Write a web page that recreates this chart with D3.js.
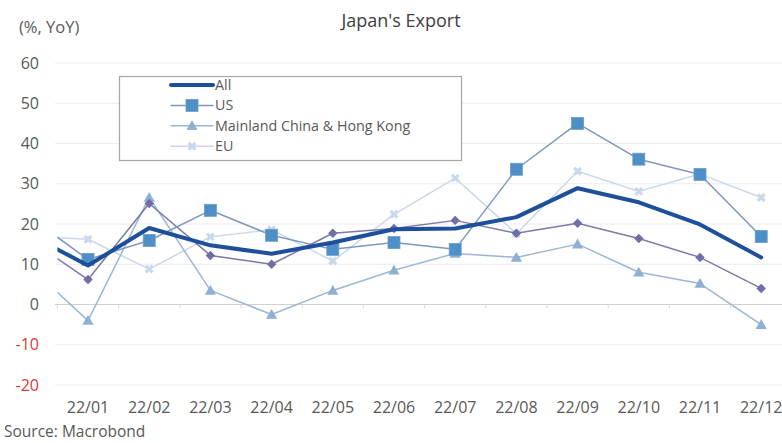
<!DOCTYPE html>
<html>
<head>
<meta charset="utf-8">
<script src="https://cdn.jsdelivr.net/npm/d3@7"></script>
<style>
  body { margin: 0; background: #fff; }
  svg { display: block; font-family: "Open Sans", "Noto Sans", sans-serif; }
</style>
</head>
<body>
<svg id="chart" width="782" height="443"></svg>
<script>
// months shown on the x axis
const months = ["22/01","22/02","22/03","22/04","22/05","22/06","22/07","22/08","22/09","22/10","22/11","22/12"];
const yTicks = [60, 50, 40, 30, 20, 10, 0, -10, -20];

// Dec 2021 values, only used so the lines enter from the left edge (clipped)
const dec21 = { all: 17.7, us: 22.2, asean: 16.6, china: 10.0, eu: 17.0 };

// % YoY
const allExp = [9.7, 19.0, 14.7, 12.6, 15.4, 18.7, 18.9, 21.7, 28.9, 25.4, 19.9, 11.7];
const usExp = [11.2, 15.9, 23.4, 17.2, 13.7, 15.4, 13.7, 33.6, 45.0, 36.1, 32.3, 16.9];
const chinaExp = [-4.0, 26.6, 3.5, -2.5, 3.5, 8.5, 12.7, 11.7, 15.0, 8.0, 5.2, -5.0];
const euExp = [16.2, 8.8, 16.8, 18.6, 10.8, 22.4, 31.4, 17.6, 33.1, 28.1, 32.4, 26.6];
const aseanExp = [6.2, 25.1, 12.2, 10.0, 17.7, 18.9, 20.9, 17.7, 20.2, 16.4, 11.7, 4.0];

const svg = d3.select("#chart");
const W = 782, H = 443;
const plotL = 57.4, plotR = 791.8, plotT = 63, plotB = 385;

const x = d3.scaleBand().domain(months).range([plotL, plotR]);
const y = d3.scaleLinear().domain([-20, 60]).range([plotB, plotT]);
const step = x.step();
const cx = m => x(m) + x.bandwidth() / 2;

svg.append("defs").append("clipPath").attr("id", "plotclip")
  .append("rect").attr("x", plotL).attr("y", 0).attr("width", W - plotL).attr("height", H);

// title and unit
svg.append("text").attr("x", 401).attr("y", 27).attr("text-anchor", "middle")
  .attr("font-size", 18).attr("fill", "#404040").text("Japan's Export");
svg.append("text").attr("x", 19).attr("y", 33)
  .attr("font-size", 16.5).attr("fill", "#595959").text("(%, YoY)");

// gridlines
svg.append("g").selectAll("line").data(yTicks).enter().append("line")
  .attr("x1", 55).attr("x2", W)
  .attr("y1", d => y(d)).attr("y2", d => y(d))
  .attr("stroke", d => d === 0 ? "#d0d0d0" : "#ececec").attr("stroke-width", 1);

// y labels
svg.append("g").selectAll("text").data(yTicks).enter().append("text")
  .attr("x", 39).attr("y", d => y(d) + 5.5).attr("text-anchor", "end")
  .attr("font-size", 16).attr("fill", d => d < 0 ? "#d9383a" : "#595959")
  .text(d => d);

// small ticks on the zero line at month boundaries
svg.append("g").selectAll("line").data(months).enter().append("line")
  .attr("x1", d => x(d)).attr("x2", d => x(d))
  .attr("y1", y(0)).attr("y2", y(0) + 4)
  .attr("stroke", "#d9d9d9");

// x labels at the bottom
const xAxis = svg.append("g").attr("transform", `translate(0,${plotB})`)
  .call(d3.axisBottom(x).tickSize(0).tickPadding(17));
xAxis.select(".domain").remove();
xAxis.selectAll("text").attr("font-size", 16).attr("fill", "#595959")
  .attr("font-family", "\"Open Sans\", \"Noto Sans\", sans-serif");

svg.append("text").attr("x", 4).attr("y", 437)
  .attr("font-size", 15.5).attr("fill", "#595959").text("Source: Macrobond");

const series = [
  { key: "eu", values: euExp, stroke: "#c9d8ea", width: 1.5, marker: "x", fill: "#c9d8ea" },
  { key: "china", values: chinaExp, stroke: "#9ab7d6", width: 1.5, marker: "tri", fill: "#8fb0d2" },
  { key: "asean", values: aseanExp, stroke: "#7b7aa8", width: 1.5, marker: "dia", fill: "#6f6ea6" },
  { key: "us", values: usExp, stroke: "#7f98b8", width: 1.5, marker: "sq", fill: "#4f8fc7" },
  { key: "all", values: allExp, stroke: "#1d4f9a", width: 4, marker: null }
];

const line = d3.line().x(d => d[0]).y(d => y(d[1]));
const plot = svg.append("g").attr("clip-path", "url(#plotclip)");

function drawMarker(g, type, px, py, fill) {
  if (type === "sq") {
    g.append("rect").attr("x", px - 6).attr("y", py - 6).attr("width", 12).attr("height", 12)
      .attr("fill", fill).attr("stroke", "#6d9cc9").attr("stroke-width", 0.8);
  } else if (type === "tri") {
    g.append("path").attr("d", d3.symbol().type(d3.symbolTriangle).size(55)())
      .attr("transform", `translate(${px},${py + 1})`).attr("fill", fill);
  } else if (type === "dia") {
    g.append("path").attr("d", d3.symbol().type(d3.symbolSquare).size(45)())
      .attr("transform", `translate(${px},${py}) rotate(45)`).attr("fill", fill);
  } else if (type === "x") {
    g.append("path").attr("d", d3.symbol().type(d3.symbolCross).size(50)())
      .attr("transform", `translate(${px},${py}) rotate(45)`).attr("fill", fill);
  }
}

series.forEach(s => {
  const pts = [[cx(months[0]) - step, dec21[s.key]]].concat(s.values.map((v, i) => [cx(months[i]), v]));
  plot.append("path").datum(pts).attr("d", line)
    .attr("fill", "none").attr("stroke", s.stroke).attr("stroke-width", s.width)
    .attr("stroke-linejoin", "round").attr("stroke-linecap", "round");
  if (!s.marker) return;
  const g = plot.append("g");
  s.values.forEach((v, i) => drawMarker(g, s.marker, cx(months[i]), y(v), s.fill));
});

// legend
const lg = svg.append("g");
lg.append("rect").attr("x", 119.5).attr("y", 76.5).attr("width", 342).attr("height", 84)
  .attr("fill", "#fff").attr("stroke", "#a6a6a6").attr("stroke-width", 1.2);
const legendItems = [
  { label: "All", s: series[4] },
  { label: "US", s: series[3] },
  { label: "Mainland China & Hong Kong", s: series[1] },
  { label: "EU", s: series[0] }
];
legendItems.forEach((d, i) => {
  const ly = 85 + i * 20.4;
  lg.append("line").attr("x1", 171).attr("x2", 213).attr("y1", ly).attr("y2", ly)
    .attr("stroke", d.s.stroke).attr("stroke-width", d.s.width).attr("stroke-linecap", "round");
  if (d.s.marker) drawMarker(lg, d.s.marker, 192, ly, d.s.fill);
  lg.append("text").attr("x", 215).attr("y", ly + 5)
    .attr("font-size", 14.3).attr("fill", "#595959").text(d.label);
});
</script>
</body>
</html>
